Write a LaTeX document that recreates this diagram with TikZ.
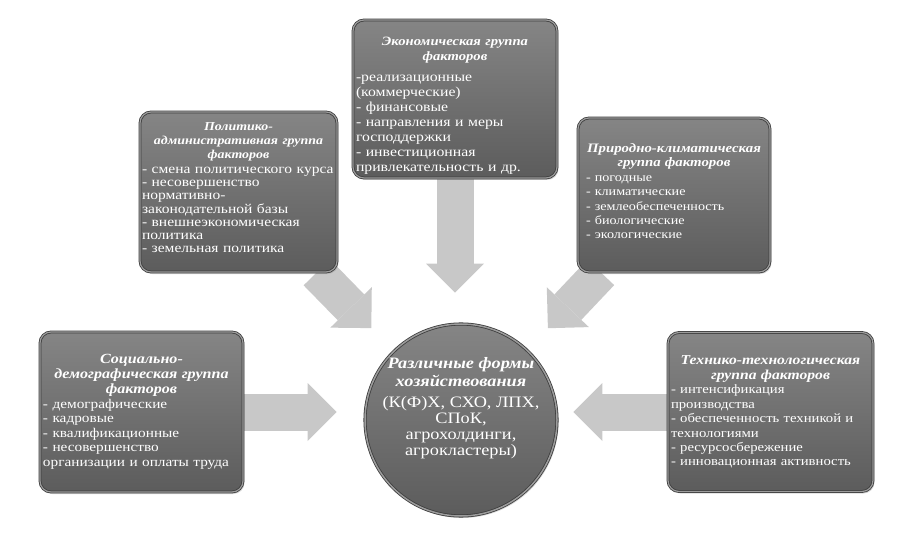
\documentclass[tikz,border=0pt]{standalone}
\usepackage{fontspec}
\setmainfont{Liberation Serif}[FakeStretch=1.15]
\usetikzlibrary{arrows.meta,backgrounds,shadows}
\definecolor{arrowgray}{HTML}{C8C8C8}
\definecolor{boxtop}{HTML}{858585}
\definecolor{boxbot}{HTML}{5C5C5C}
\definecolor{boxedge}{HTML}{3C3C3C}
\definecolor{boxrim}{HTML}{9C9C9C}
% title: size, leading, text
\newcommand\hd[3]{{\centering\fontsize{#1}{#2}\selectfont\bfseries\itshape #3\par}}
\tikzset{
  factor/.style={rectangle, rounded corners=11bp, top color=boxtop, bottom color=boxbot,
    draw=boxedge, double=boxrim, double distance=1.2bp, line width=0.8bp,
    drop shadow={shadow xshift=1.5bp, shadow yshift=-2bp, opacity=0.3},
    text=white, inner xsep=3bp, inner ysep=0bp, align=left},
  hub/.style={circle, top color=boxtop, bottom color=boxbot,
    draw=boxedge, double=boxrim, double distance=1.5bp, line width=0.8bp,
    drop shadow={shadow xshift=1.5bp, shadow yshift=-2bp, opacity=0.3},
    text=white, inner sep=0bp, minimum size=192bp},
  bigarrow/.style={draw=arrowgray, line width=37bp,
    -{Triangle[width=58bp,length=29bp,line width=0pt]}}
}
\begin{document}
\begin{tikzpicture}[x=1bp, y=-1bp]
\useasboundingbox (0,0) rectangle (901,538);

\node[factor, text width=198bp, minimum height=158bp,
  font=\fontsize{13.7bp}{15bp}\selectfont] (eco) at (455,99)
  {\hd{12.7bp}{15bp}{Экономическая группа\\факторов}\vspace{6bp}-реализационные\\(коммерческие)\\- финансовые\\- направления и меры\\господдержки\\- инвестиционная\\привлекательность и др.\par\vspace{-14bp}};

\node[factor, text width=193bp, inner xsep=2bp, minimum height=160bp,
  font=\fontsize{13.5bp}{13.3bp}\selectfont] (pol) at (238.5,192)
  {\hd{12.1bp}{14bp}{Политико-\\административная группа\\факторов}\vspace{1bp}- смена политического курса\\- несовершенство\\нормативно-\\законодательной базы\\- внешнеэкономическая\\политика\\- земельная политика\par\vspace{8bp}};

\node[factor, text width=176bp, inner xsep=8bp, minimum height=154bp,
  font=\fontsize{12.3bp}{14.2bp}\selectfont] (prir) at (674,195)
  {\hd{12.9bp}{14bp}{Природно-климатическая\\группа факторов}\vspace{1bp}- погодные\\- климатические\\- землеобеспеченность\\- биологические\\- экологические\par\vspace{8bp}};

\node[factor, text width=197bp, minimum height=160bp,
  font=\fontsize{13.3bp}{14.5bp}\selectfont] (soc) at (141.5,412)
  {\hd{14bp}{15bp}{Социально-\\демографическая группа\\факторов}- демографические\\- кадровые\\- квалификационные\\- несовершенство\\организации и оплаты труда};

\node[factor, text width=199bp, minimum height=159bp,
  font=\fontsize{12.8bp}{14.4bp}\selectfont] (tech) at (770.5,412)
  {\hd{13.6bp}{15bp}{Технико-технологическая\\группа факторов}- интенсификация\\производства\\- обеспеченность техникой и\\технологиями\\- ресурсосбережение\\- инновационная активность};

\node[hub] (circ) at (461,420)
  {\makebox[0pt]{\raisebox{9bp}[0pt][0pt]{\parbox{175bp}{\centering
   \fontsize{15.9bp}{16bp}\selectfont{\bfseries\itshape Различные формы\\[2bp]хозяйствования}\\[5bp](К(Ф)Х, СХО, ЛПХ,\\СПоК,\\агрохолдинги,\\агрокластеры)}}}};

\begin{scope}[on background layer]
  \draw[bigarrow, shorten >=31bp] (eco.south) -- (eco.south |- circ.north);
  \draw[bigarrow, shorten >=32bp] (pol) -- (circ);
  \draw[bigarrow, shorten >=30bp] (prir) -- (circ);
  \draw[bigarrow, shorten >=28bp] (soc.east) -- (soc.east -| circ.west);
  \draw[bigarrow, shorten >=16bp] (tech.west) -- (tech.west -| circ.east);
\end{scope}
\end{tikzpicture}
\end{document}
